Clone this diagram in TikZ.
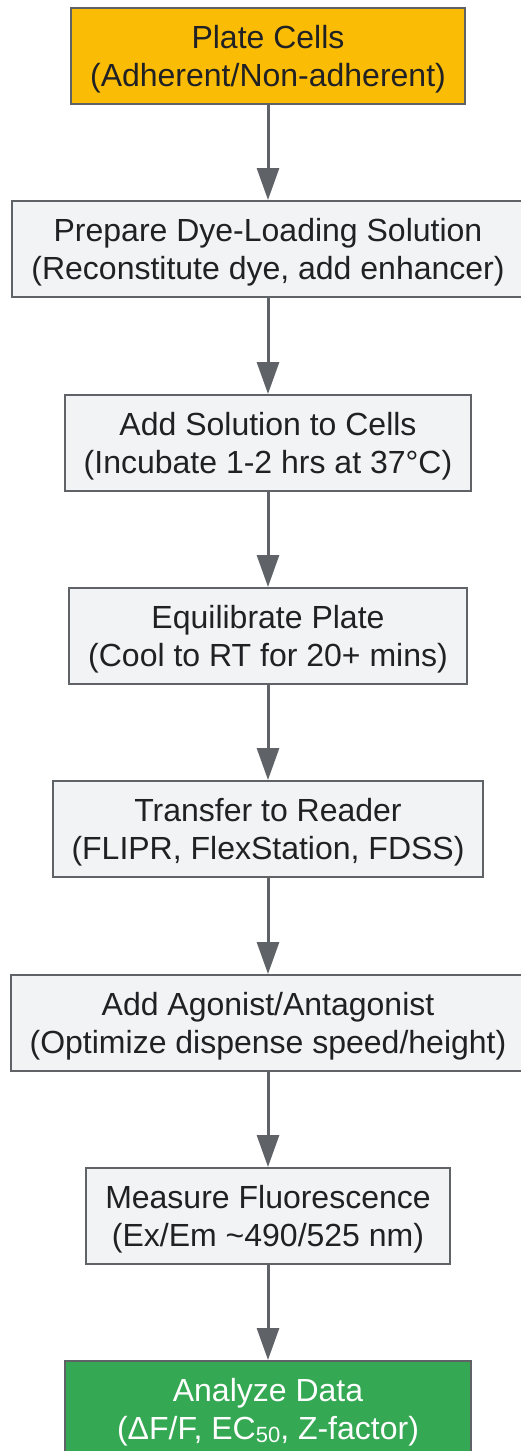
\documentclass[tikz,border=0pt]{standalone}
\usepackage{fontspec}
\setmainfont{Liberation Sans}
\usetikzlibrary{arrows.meta}

\definecolor{boxgray}{HTML}{F1F3F4}
\definecolor{edgegray}{HTML}{5F6368}
\definecolor{textdark}{HTML}{202124}
\definecolor{startyellow}{HTML}{FBBC05}
\definecolor{endgreen}{HTML}{34A853}

\newcommand{\subdigits}[1]{\raisebox{-2.5pt}{\fontsize{22}{22}\selectfont #1}}

\tikzset{
  stepbox/.style={draw=edgegray, line width=2pt, fill=boxgray, text=textdark,
    align=center, inner xsep=19pt, inner ysep=2pt, minimum height=96pt,
    font=\fontsize{32}{38}\selectfont, text depth=0pt},
  startbox/.style={stepbox, fill=startyellow},
  endbox/.style={stepbox, fill=endgreen, text=white, minimum width=406pt},
  flow/.style={draw=edgegray, line width=3pt,
    -{Triangle[length=32pt,width=22pt]}}
}

\begin{document}
\begin{tikzpicture}[x=1pt, y=1pt]
  \useasboundingbox (0,0) rectangle (521,-1451);

  % Steps of the assay
  \node[startbox] (plate) at (268,-56) {Plate Cells\\(Adherent/Non-adherent)};
  \node[stepbox] (prepare) at (268,-249) {Prepare Dye-Loading Solution\\(Reconstitute dye, add enhancer)};
  \node[stepbox] (load) at (268,-443) {Add Solution to Cells\\(Incubate 1-2 hrs at 37°C)};
  \node[stepbox] (equil) at (268,-636) {Equilibrate Plate\\(Cool to RT for 20+ mins)};
  \node[stepbox] (transfer) at (268,-829) {Transfer to Reader\\(FLIPR, FlexStation, FDSS)};
  \node[stepbox] (agonist) at (268,-1023) {Add Agonist/Antagonist\\(Optimize dispense speed/height)};
  \node[stepbox] (measure) at (268,-1216) {Measure Fluorescence\\(Ex/Em \textasciitilde490/525 nm)};
  \node[endbox] (analyze) at (268,-1409) {Analyze Data\\(ΔF/F, EC\subdigits{50}, Z-factor)};

  % Arrows between steps
  \draw[flow] (plate) -- (prepare);
  \draw[flow] (prepare) -- (load);
  \draw[flow] (load) -- (equil);
  \draw[flow] (equil) -- (transfer);
  \draw[flow] (transfer) -- (agonist);
  \draw[flow] (agonist) -- (measure);
  \draw[flow] (measure) -- (analyze);
\end{tikzpicture}
\end{document}
